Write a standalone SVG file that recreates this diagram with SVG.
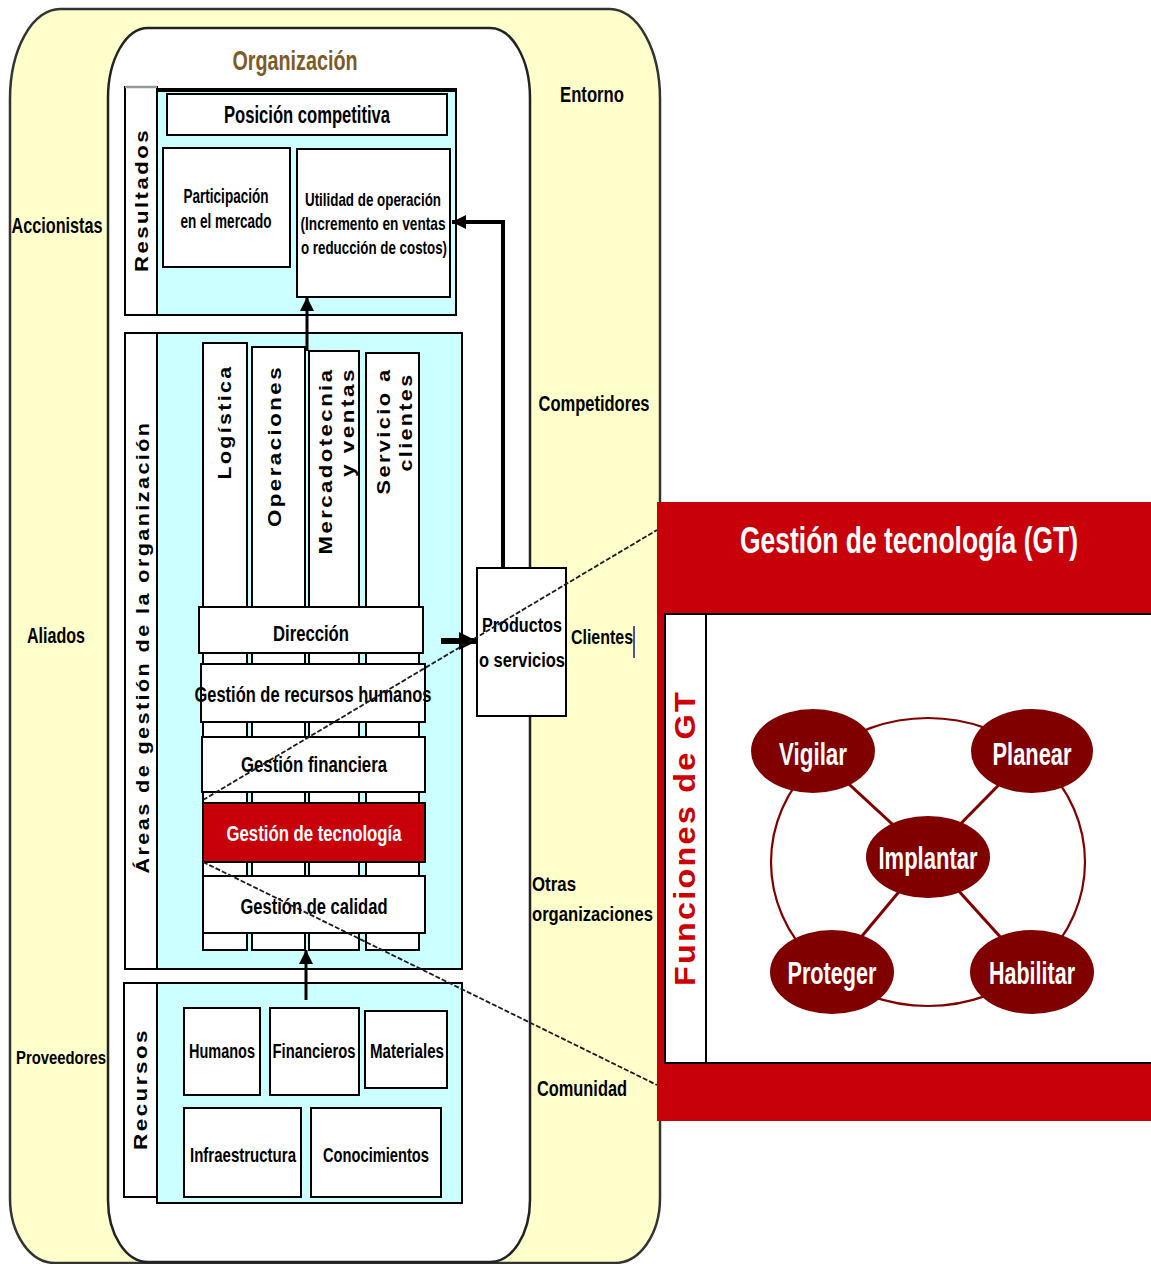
<svg xmlns="http://www.w3.org/2000/svg" width="1151" height="1264" viewBox="0 0 1151 1264">
<defs>
<style>
text{font-family:"Liberation Sans",Arial,sans-serif;font-weight:bold;fill:#000}
.c{text-anchor:middle}
.v{letter-spacing:2px}
.box{fill:#fff;stroke:#000;stroke-width:2}
.cyan{fill:#CCFFFF;stroke:#000;stroke-width:2}
.red{fill:#C8000A}
.wt{fill:#fff}
.fn{fill:#800000}
.ring{fill:none;stroke:#800000;stroke-width:2.2}
.arr{fill:none;stroke:#000}
.dash{fill:none;stroke:#1a1a1a;stroke-width:1.8;stroke-dasharray:5 2}
</style>
<marker id="ah" viewBox="0 0 10 10" refX="10" refY="5" markerWidth="14" markerHeight="14" markerUnits="userSpaceOnUse" orient="auto">
<path d="M0,0 L10,5 L0,10 z" fill="#000"/>
</marker>
<marker id="ahb" viewBox="0 0 10 10" refX="10" refY="5" markerWidth="18" markerHeight="18" markerUnits="userSpaceOnUse" orient="auto">
<path d="M0,0 L10,5 L0,10 z" fill="#000"/>
</marker>
</defs>

<g id="entorno">
<path d="M60,9 H610 A50,90 0 0 1 660,99 V1198 A45,65 0 0 1 615,1263 H55 A45,65 0 0 1 10,1198 V99 A50,90 0 0 1 60,9 Z" fill="#FFFFCC" stroke="#333" stroke-width="2.5"/>
<text class="c" x="592" y="102" font-size="22" textLength="64" lengthAdjust="spacingAndGlyphs">Entorno</text>
<text class="c" x="57" y="233" font-size="22" textLength="91" lengthAdjust="spacingAndGlyphs">Accionistas</text>
<text class="c" x="594" y="411" font-size="22" textLength="111" lengthAdjust="spacingAndGlyphs">Competidores</text>
<text class="c" x="56" y="643" font-size="22" textLength="58" lengthAdjust="spacingAndGlyphs">Aliados</text>
<text x="571" y="644" font-size="21" textLength="62" lengthAdjust="spacingAndGlyphs">Clientes</text>
<line x1="634" y1="626" x2="634" y2="658" stroke="#1a1a80" stroke-width="1.5"/>
<text x="532" y="891" font-size="21" textLength="44" lengthAdjust="spacingAndGlyphs">Otras</text>
<text x="532" y="921" font-size="21" textLength="121" lengthAdjust="spacingAndGlyphs">organizaciones</text>
<text class="c" x="61" y="1064" font-size="19" textLength="90" lengthAdjust="spacingAndGlyphs">Proveedores</text>
<text class="c" x="582" y="1096" font-size="22" textLength="90" lengthAdjust="spacingAndGlyphs">Comunidad</text>
</g>

<g id="organizacion">
<path d="M148,28 H490 A40,70 0 0 1 530,98 V1200 A40,62 0 0 1 490,1262 H148 A40,62 0 0 1 108,1200 V98 A40,70 0 0 1 148,28 Z" fill="#fff" stroke="#222" stroke-width="2.5"/>
<text class="c" x="295" y="70" font-size="27" style="fill:#7B5B2A" textLength="125" lengthAdjust="spacingAndGlyphs">Organización</text>
</g>

<g id="resultados">
<rect x="125" y="87" width="32" height="228" fill="#fff" stroke="#000" stroke-width="2"/>
<line x1="125" y1="87" x2="157" y2="87" stroke="#999" stroke-width="2.5"/>
<rect x="157" y="89" width="299" height="226" class="cyan"/>
<line x1="157" y1="90" x2="456" y2="90" stroke="#000" stroke-width="4"/>
<text class="c v" transform="translate(148,200) rotate(-90)" font-size="18" textLength="144" lengthAdjust="spacingAndGlyphs">Resultados</text>
</g>
<g id="posicion">
<rect x="167" y="94" width="280" height="41" class="box"/>
<text class="c" x="307" y="123" font-size="23" textLength="166" lengthAdjust="spacingAndGlyphs">Posición competitiva</text>
</g>
<g id="participacion">
<rect x="163" y="148" width="127" height="119" class="box"/>
<text class="c" x="226" y="203" font-size="20" textLength="85" lengthAdjust="spacingAndGlyphs">Participación</text>
<text class="c" x="226" y="228" font-size="20" textLength="91" lengthAdjust="spacingAndGlyphs">en el mercado</text>
</g>
<g id="utilidad">
<rect x="297" y="149" width="153" height="148" class="box"/>
<text class="c" x="373" y="206" font-size="19" textLength="136" lengthAdjust="spacingAndGlyphs">Utilidad de operación</text>
<text class="c" x="373" y="230" font-size="19" textLength="145" lengthAdjust="spacingAndGlyphs">(Incremento en ventas</text>
<text class="c" x="374" y="254" font-size="19" textLength="146" lengthAdjust="spacingAndGlyphs">o reducción de costos)</text>
</g>

<g id="areas">
<rect x="125" y="333" width="32" height="636" class="box"/>
<rect x="157" y="333" width="305" height="636" class="cyan"/>
<text class="c v" transform="translate(149,647) rotate(-90)" font-size="18" textLength="453" lengthAdjust="spacingAndGlyphs">Áreas de gestión de la organización</text>
</g>
<g id="logistica">
<rect x="203" y="343" width="44" height="607" class="box"/>
<text class="c v" transform="translate(231,422) rotate(-90)" font-size="18" textLength="115" lengthAdjust="spacingAndGlyphs">Logística</text>
</g>
<g id="operaciones">
<rect x="252" y="347" width="53" height="603" class="box"/>
<text class="c v" transform="translate(281,446) rotate(-90)" font-size="18" textLength="162" lengthAdjust="spacingAndGlyphs">Operaciones</text>
</g>
<g id="mercadotecnia">
<rect x="309" y="351" width="50" height="599" class="box"/>
<text class="c v" transform="translate(332,461) rotate(-90)" font-size="18" textLength="187" lengthAdjust="spacingAndGlyphs">Mercadotecnia</text>
<text class="c v" transform="translate(354,422) rotate(-90)" font-size="18" textLength="110" lengthAdjust="spacingAndGlyphs">y ventas</text>
</g>
<g id="servicio">
<rect x="366" y="353" width="53" height="597" class="box"/>
<text class="c v" transform="translate(390,431) rotate(-90)" font-size="18" textLength="127" lengthAdjust="spacingAndGlyphs">Servicio a</text>
<text class="c v" transform="translate(412,422) rotate(-90)" font-size="18" textLength="99" lengthAdjust="spacingAndGlyphs">clientes</text>
</g>
<g id="direccion">
<rect x="199" y="607" width="224" height="46" class="box"/>
<text class="c" x="311" y="641" font-size="22" textLength="76" lengthAdjust="spacingAndGlyphs">Dirección</text>
</g>
<g id="rh">
<rect x="201" y="664" width="224" height="58" class="box"/>
<text class="c" x="313" y="702" font-size="22" textLength="237" lengthAdjust="spacingAndGlyphs">Gestión de recursos humanos</text>
</g>
<g id="financiera">
<rect x="202" y="737" width="223" height="55" class="box"/>
<text class="c" x="314" y="772" font-size="22" textLength="146" lengthAdjust="spacingAndGlyphs">Gestión financiera</text>
</g>
<g id="tecnologia">
<rect x="203" y="803" width="222" height="59" fill="#C8000A" stroke="#000" stroke-width="2"/>
<text class="c wt" x="314" y="841" font-size="22" textLength="175" lengthAdjust="spacingAndGlyphs">Gestión de tecnología</text>
</g>
<g id="calidad">
<rect x="203" y="876" width="222" height="57" class="box"/>
<text class="c" x="314" y="914" font-size="22" textLength="147" lengthAdjust="spacingAndGlyphs">Gestión de calidad</text>
</g>

<g id="recursos">
<rect x="124" y="983" width="33" height="214" class="box"/>
<rect x="157" y="983" width="305" height="220" class="cyan"/>
<text class="c v" transform="translate(147,1089) rotate(-90)" font-size="18" textLength="122" lengthAdjust="spacingAndGlyphs">Recursos</text>
</g>
<g id="humanos">
<rect x="184" y="1008" width="76" height="87" class="box"/>
<text class="c" x="222" y="1058" font-size="20" textLength="66" lengthAdjust="spacingAndGlyphs">Humanos</text>
</g>
<g id="financieros">
<rect x="270" y="1008" width="89" height="87" class="box"/>
<text class="c" x="314" y="1058" font-size="20" textLength="83" lengthAdjust="spacingAndGlyphs">Financieros</text>
</g>
<g id="materiales">
<rect x="365" y="1011" width="82" height="77" class="box"/>
<text class="c" x="407" y="1058" font-size="20" textLength="74" lengthAdjust="spacingAndGlyphs">Materiales</text>
</g>
<g id="infraestructura">
<rect x="184" y="1108" width="117" height="89" class="box"/>
<text class="c" x="243" y="1162" font-size="21" textLength="106" lengthAdjust="spacingAndGlyphs">Infraestructura</text>
</g>
<g id="conocimientos">
<rect x="311" y="1108" width="130" height="89" class="box"/>
<text class="c" x="376" y="1162" font-size="21" textLength="106" lengthAdjust="spacingAndGlyphs">Conocimientos</text>
</g>

<g id="productos">
<rect x="477" y="568" width="89" height="148" class="box"/>
<text class="c" x="522" y="632" font-size="20" textLength="80" lengthAdjust="spacingAndGlyphs">Productos</text>
<text class="c" x="522" y="667" font-size="20" textLength="86" lengthAdjust="spacingAndGlyphs">o servicios</text>
</g>

<g id="gt">
<rect x="657" y="502" width="494" height="619" class="red"/>
<rect x="665" y="614" width="487" height="449" class="box"/>
<line x1="706" y1="614" x2="706" y2="1063" stroke="#000" stroke-width="2"/>
<text class="c wt" x="909" y="553" font-size="36" textLength="338" lengthAdjust="spacingAndGlyphs">Gestión de tecnología (GT)</text>
<text class="c" transform="translate(695,838) rotate(-90)" font-size="29" style="fill:#CC0000;letter-spacing:2px" textLength="296" lengthAdjust="spacingAndGlyphs">Funciones de GT</text>
</g>

<g id="connectors">
<path class="arr" d="M503,568 V222 H452" stroke-width="4" marker-end="url(#ah)"/>
<path class="arr" d="M307,351 V297" stroke-width="3" marker-end="url(#ah)"/>
<path class="arr" d="M441,641 H477" stroke-width="6" marker-end="url(#ahb)"/>
<path class="arr" d="M306,1000 V950" stroke-width="3" marker-end="url(#ah)"/>
<line class="dash" x1="203" y1="800" x2="657" y2="530"/>
<line class="dash" x1="203" y1="862" x2="657" y2="1085"/>
<ellipse class="ring" cx="928" cy="862" rx="157" ry="144"/>
<line x1="928" y1="857" x2="813" y2="751" stroke="#800000" stroke-width="3"/>
<line x1="928" y1="857" x2="1032" y2="751" stroke="#800000" stroke-width="3"/>
<line x1="928" y1="857" x2="832" y2="972" stroke="#800000" stroke-width="3"/>
<line x1="928" y1="857" x2="1032" y2="972" stroke="#800000" stroke-width="3"/>
</g>

<g id="vigilar">
<ellipse class="fn" cx="813" cy="751" rx="62" ry="42"/>
<text class="c wt" x="813" y="765" font-size="32" textLength="68" lengthAdjust="spacingAndGlyphs">Vigilar</text>
</g>
<g id="planear">
<ellipse class="fn" cx="1032" cy="751" rx="61" ry="42"/>
<text class="c wt" x="1032" y="765" font-size="32" textLength="79" lengthAdjust="spacingAndGlyphs">Planear</text>
</g>
<g id="implantar">
<ellipse class="fn" cx="928" cy="857" rx="62" ry="41"/>
<text class="c wt" x="928" y="869" font-size="32" textLength="99" lengthAdjust="spacingAndGlyphs">Implantar</text>
</g>
<g id="proteger">
<ellipse class="fn" cx="832" cy="972" rx="62" ry="42"/>
<text class="c wt" x="832" y="984" font-size="32" textLength="89" lengthAdjust="spacingAndGlyphs">Proteger</text>
</g>
<g id="habilitar">
<ellipse class="fn" cx="1032" cy="972" rx="62" ry="42"/>
<text class="c wt" x="1032" y="984" font-size="32" textLength="86" lengthAdjust="spacingAndGlyphs">Habilitar</text>
</g>
</svg>
